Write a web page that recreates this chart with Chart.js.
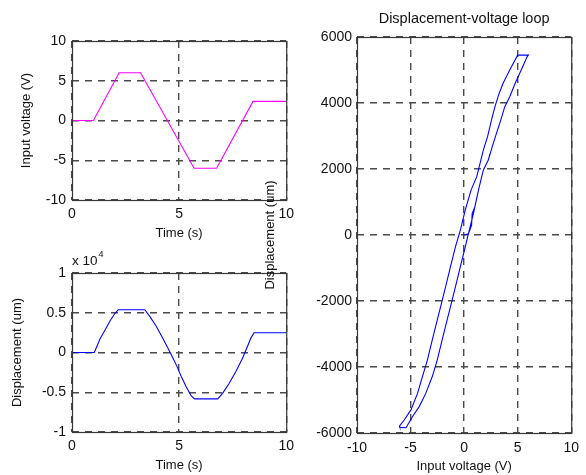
<!DOCTYPE html>
<html lang="en">
<head>
<meta charset="UTF-8">
<title>Displacement-voltage loop</title>
<script src="https://cdn.jsdelivr.net/npm/chart.js"></script>
<style>
  body { margin: 0; background: #fff; }
  #wrap { position: relative; width: 586px; height: 475px; overflow: hidden; }
  canvas { position: absolute; }
</style>
</head>
<body>
<div id="wrap">
  <canvas id="voltChart" width="300" height="245" style="left:0;top:0"></canvas>
  <canvas id="dispChart" width="300" height="230" style="left:0;top:245px"></canvas>
  <canvas id="loopChart" width="331" height="475" style="left:255px;top:0"></canvas>
</div>
<script>
// input voltage over time (s, V)
const timeVolt  = [0, 1, 2.2, 3.2, 5.7, 6.75, 8.45, 10];
const inputVolt = [0, 0, 6, 6, -6, -6, 2.4, 2.4];

// displacement over time (s, um)
const timeDisp = [0, 1.04, 1.16, 1.31, 1.55, 1.78, 2.01, 2.16, 3.4, 3.63, 3.94, 4.25, 4.56, 4.87,
                  5.10, 5.33, 5.56, 5.72, 6.8, 7.03, 7.34, 7.65, 7.96, 8.19, 8.35, 8.5, 10];
const displacement = [0, 0, 760, 1730, 2860, 4000, 4930, 5380, 5380, 4550, 3280, 1730, 130, -1560,
                      -3030, -4300, -5430, -5830, -5830, -5140, -3870, -2400, -720, 760, 1810, 2480, 2480];

// displacement-voltage loop, in time order (V, um)
const loopVolt = [0, 0.4, 0.7, 0.75, 1.0,
  1.34, 1.8, 2.26, 2.63, 3.02, 3.43, 3.8, 4.26, 4.77, 5.33, 5.88, 6.0, 5.0,
  4.26, 3.64, 3.27, 2.88, 2.56, 2.19, 1.8, 1.49, 1.18, 0.65, 0.11, -0.35, -0.81, -1.27, -1.73,
  -2.19, -2.51, -2.97, -3.43, -3.89, -4.35, -4.96, -5.58, -6.04, -6.0, -5.42,
  -4.81, -4.19, -3.58, -2.97, -2.51, -2.05, -1.59, -1.27, -0.81, -0.35, 0.11, 0.41, 0.88, 1.34, 1.8, 2.26, 2.4];
const loopDisp = [0, 40, 300, 650, 850,
  1360, 1970, 2270, 2680, 3080, 3490, 3890, 4190, 4600, 5000, 5400, 5450, 5450,
  5000, 4600, 4290, 3890, 3490, 2980, 2580, 2170, 1770, 1360, 760, 150, -360, -960, -1570,
  -2170, -2580, -3180, -3790, -4290, -4800, -5300, -5600, -5790, -5830, -5840,
  -5500, -5200, -4800, -4290, -3790, -3180, -2580, -2170, -1570, -960, -360, 50, 660, 1360, 1970, 2270, 2450];

// axis ticks
const timeTicks = [0, 5, 10];
const voltTicks = [-10, -5, 0, 5, 10];
const dispTicks = [-10000, -5000, 0, 5000, 10000];
const dispTickLabels = ['-1', '-0.5', '0', '0.5', '1'];
const loopVoltTicks = [-10, -5, 0, 5, 10];
const loopDispTicks = [-6000, -4000, -2000, 0, 2000, 4000, 6000];

const FONT = '"Liberation Sans", Arial, Helvetica, sans-serif';
Chart.defaults.font.family = FONT;
Chart.defaults.font.size = 13;
Chart.defaults.color = '#111';

// box around the axes plus optional title / exponent note
const framePlugin = {
  id: 'frame',
  afterDatasetsDraw(chart, args, opts) {
    const ctx = chart.ctx, a = chart.chartArea;
    ctx.save();
    ctx.strokeStyle = '#383838';
    ctx.lineWidth = 1.2;
    ctx.strokeRect(a.left + 0.5, a.top + 0.5, a.right - a.left, a.bottom - a.top);
    ctx.fillStyle = '#111';
    if (opts.title) {
      ctx.font = '14.5px ' + FONT;
      ctx.textAlign = 'center';
      ctx.textBaseline = 'middle';
      ctx.fillText(opts.title, (a.left + a.right) / 2, a.top - 18);
    }
    if (opts.exponent) {
      ctx.font = '13.5px ' + FONT;
      ctx.textAlign = 'left';
      ctx.textBaseline = 'alphabetic';
      ctx.fillText('x 10', a.left, a.top - 8);
      const w = ctx.measureText('x 10').width;
      ctx.font = '9px ' + FONT;
      ctx.fillText(opts.exponent, a.left + w + 1, a.top - 16);
    }
    ctx.restore();
  }
};

function axis(opts) {
  return {
    type: 'linear',
    min: opts.ticks[0],
    max: opts.ticks[opts.ticks.length - 1],
    afterBuildTicks: s => { s.ticks = opts.ticks.map(v => ({ value: v })); },
    afterFit: s => { if (opts.width != null) s.width = opts.width; if (opts.height != null) s.height = opts.height; },
    grid: { color: '#4a4a4a', lineWidth: 1.4, drawTicks: false, tickLength: 0 },
    border: { display: false, dash: [7, 6] },
    ticks: {
      padding: opts.pad,
      font: { size: 14 },
      callback: opts.labels ? (v, i) => opts.labels[i] : (v => String(v))
    },
    title: {
      display: true,
      text: opts.title,
      font: { size: 13 },
      color: '#111',
      padding: opts.titlePad
    }
  };
}

function makeChart(id, xs, ys, color, scales, padding, frame) {
  const pts = xs.map((x, i) => ({ x: x, y: ys[i] }));
  return new Chart(document.getElementById(id), {
    type: 'scatter',
    data: {
      datasets: [{
        data: pts,
        showLine: true,
        borderColor: color,
        borderWidth: 1.1,
        pointRadius: 0,
        tension: 0,
        fill: false
      }]
    },
    options: {
      responsive: false,
      animation: false,
      events: [],
      layout: { padding: padding },
      plugins: { legend: { display: false }, tooltip: { enabled: false }, frame: frame },
      scales: scales
    },
    plugins: [framePlugin]
  });
}

// top-left: input voltage
makeChart('voltChart', timeVolt, inputVolt, '#ff00ff', {
  x: axis({ ticks: timeTicks, height: 45, pad: 6, title: 'Time (s)', titlePad: { top: 0, bottom: 4 } }),
  y: axis({ ticks: voltTicks, width: 72, pad: 6, title: 'Input voltage (V)', titlePad: { top: 19, bottom: 0 } })
}, { left: 0, right: 12, top: 41, bottom: 0 }, {});

// bottom-left: displacement
makeChart('dispChart', timeDisp, displacement, '#0000ff', {
  x: axis({ ticks: timeTicks, height: 43, pad: 6, title: 'Time (s)', titlePad: { top: 0, bottom: 2 } }),
  y: axis({ ticks: dispTicks, labels: dispTickLabels, width: 72, pad: 6, title: 'Displacement (um)', titlePad: { top: 10, bottom: 0 } })
}, { left: 0, right: 12, top: 28, bottom: 0 }, { exponent: '4' });

// right: displacement-voltage loop
makeChart('loopChart', loopVolt, loopDisp, '#0000ff', {
  x: axis({ ticks: loopVoltTicks, height: 42, pad: 7, title: 'Input voltage (V)', titlePad: { top: 0, bottom: 1 } }),
  y: axis({ ticks: loopDispTicks, width: 102, pad: 5, title: 'Displacement (um)', titlePad: { top: 8, bottom: 0 } })
}, { left: 0, right: 12, top: 37, bottom: 0 }, { title: 'Displacement-voltage loop' });
</script>
</body>
</html>
